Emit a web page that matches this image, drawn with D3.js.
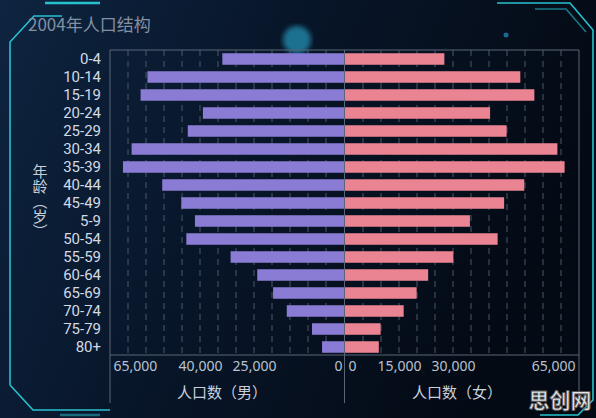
<!DOCTYPE html>
<html>
<head>
<meta charset="utf-8">
<script src="https://cdn.jsdelivr.net/npm/d3@7"></script>
<style>
	html, body { margin: 0; padding: 0; background: #06101e; }
	svg { display: block; font-family: 'Noto Sans CJK SC', 'Noto Sans', sans-serif; }
</style>
</head>
<body>
<div id="chart"></div>
<script>
// Age groups, in the order the source lists them
const ageGroups = [ '0-4', '10-14', '15-19', '20-24', '25-29', '30-34', '35-39', '40-44', '45-49', '5-9',
	'50-54', '55-59', '60-64', '65-69', '70-74', '75-79', '80+' ];
const male = [ 33800, 54600, 56500, 39200, 43400, 59000, 61400, 50500, 45200, 41400,
	43800, 31500, 24100, 19700, 15900, 8900, 6100 ];
const female = [ 27600, 48700, 52600, 40300, 44900, 59000, 61000, 49800, 44200, 34700,
	42400, 30100, 23100, 19900, 16300, 9900, 9400 ];
const maleTicks = [ 65000, 40000, 25000, 0 ];
const femaleTicks = [ 0, 15000, 30000, 65000 ];

let dimensions = {
	width  : 596,
	height : 418,
	top    : 50,
	bottom : 356,
	left   : 110,
	mid    : 344.5,
	right  : 579
};

const svg = d3
	.select('#chart')
	.append('svg')
	.attr('width', dimensions.width)
	.attr('height', dimensions.height);

// background + decorative frame
const defs = svg.append('defs');
const bg = defs.append('linearGradient').attr('id', 'bg').attr('x1', 0).attr('x2', 1).attr('y1', 0).attr('y2', 0.3);
bg.append('stop').attr('offset', '0%').attr('stop-color', '#0e2440');
bg.append('stop').attr('offset', '45%').attr('stop-color', '#08162a');
bg.append('stop').attr('offset', '100%').attr('stop-color', '#040a14');
defs.append('filter').attr('id', 'glow').append('feGaussianBlur').attr('stdDeviation', 2.5);
defs.append('filter').attr('id', 'soft').append('feGaussianBlur').attr('stdDeviation', 0.6);

svg.append('rect').attr('width', dimensions.width).attr('height', dimensions.height).attr('fill', 'url(#bg)');

svg.append('circle').attr('cx', 297).attr('cy', 40).attr('r', 14).attr('fill', '#1a7191').attr('filter', 'url(#glow)');
svg.append('circle').attr('cx', 506).attr('cy', 35).attr('r', 2.5).attr('fill', '#1a6a94');

const frame = svg.append('g').attr('fill', 'none').attr('stroke', '#27c1cf').attr('stroke-width', 1.6).attr('filter', 'url(#soft)');
frame.append('path').attr('d', 'M10,385 L10,42 L34,16 L62,16');
frame.append('path').attr('d', 'M45,3 L100,3').attr('stroke-width', 2.5);
frame.append('path').attr('d', 'M10,385 L33,410 L110,410');
frame.append('path').attr('d', 'M60,415 L100,415').attr('stroke-opacity', 0.5).attr('stroke-width', 2.5);
frame.append('path').attr('d', 'M497,3 L570,3 L593,30 L593,400 L578,415 L540,415');
frame.append('path').attr('d', 'M535,9 L566,9 L586,32').attr('stroke-opacity', 0.6);

// title
svg.append('text')
	.attr('x', 28)
	.attr('y', 31)
	.attr('font-size', 17)
	.attr('fill', '#8390a2')
	.text('2004年人口结构');

// scales
const y = d3
	.scaleBand()
	.domain(ageGroups)
	.range([ dimensions.top, dimensions.bottom ])
	.paddingInner(0.36)
	.paddingOuter(0.18);

const xMale = d3.scaleLinear().domain([ 0, 65000 ]).range([ dimensions.mid - 0.5, dimensions.left ]);
const xFemale = d3.scaleLinear().domain([ 0, 65000 ]).range([ dimensions.mid + 0.5, dimensions.right ]);

const gridValues = d3.range(5000, 65000, 5000);

// dashed grid lines
svg.append('g')
	.selectAll('line')
	.data(gridValues.map((v) => xMale(v)).concat(gridValues.map((v) => xFemale(v))))
	.enter()
	.append('line')
	.attr('x1', (d) => d)
	.attr('x2', (d) => d)
	.attr('y1', dimensions.top)
	.attr('y2', 355)
	.attr('stroke', '#4a5868')
	.attr('stroke-width', 1)
	.attr('stroke-dasharray', '6,5');

// grid borders
const border = svg.append('g').attr('stroke', '#5a6677').attr('stroke-width', 1).attr('fill', 'none');
border.append('path').attr('d', `M${dimensions.left},403 L${dimensions.left},${dimensions.top} L${dimensions.right},${dimensions.top} L${dimensions.right},403`);
border.append('line').attr('x1', dimensions.left).attr('x2', dimensions.right).attr('y1', 355).attr('y2', 355);
border.append('line').attr('x1', dimensions.mid).attr('x2', dimensions.mid).attr('y1', dimensions.top).attr('y2', 403);

// bars
svg.append('g')
	.selectAll('rect')
	.data(ageGroups)
	.enter()
	.append('rect')
	.attr('x', (d, i) => xMale(male[i]))
	.attr('y', (d) => y(d))
	.attr('width', (d, i) => xMale(0) - xMale(male[i]))
	.attr('height', y.bandwidth())
	.attr('fill', '#8a7bd4');

svg.append('g')
	.selectAll('rect')
	.data(ageGroups)
	.enter()
	.append('rect')
	.attr('x', xFemale(0))
	.attr('y', (d) => y(d))
	.attr('width', (d, i) => xFemale(female[i]) - xFemale(0))
	.attr('height', y.bandwidth())
	.attr('fill', '#ea8392');

// y axis labels
const yAxis = svg
	.append('g')
	.attr('transform', 'translate(101,0)')
	.call(d3.axisLeft(y).tickSize(0).tickPadding(0));
yAxis.select('.domain').remove();
yAxis.selectAll('text')
	.attr('font-size', 15)
	.attr('fill', '#d2dae6')
	.attr('font-family', 'Roboto, sans-serif');

// x axes
function styleXAxis(g, ticks) {
	g.select('.domain').remove();
	g.selectAll('text')
		.attr('font-size', 14)
		.attr('fill', '#b9c3d0')
		.attr('font-family', "'Noto Sans', sans-serif")
		.attr('dy', '0.71em')
		.style('text-anchor', function(d, i) {
			if (i == 0) return 'start';
			if (i == ticks.length - 1) return 'end';
			return 'middle';
		});
}

const maleAxis = svg
	.append('g')
	.attr('transform', 'translate(0,355)')
	.call(d3.axisBottom(xMale).tickValues(maleTicks).tickFormat(d3.format(',')).tickSize(0).tickPadding(6));
styleXAxis(maleAxis, maleTicks);
maleAxis.selectAll('.tick text').attr('x', (d) => (d == 65000 ? 3 : d == 0 ? -2 : 0));

const femaleAxis = svg
	.append('g')
	.attr('transform', 'translate(0,355)')
	.call(d3.axisBottom(xFemale).tickValues(femaleTicks).tickFormat(d3.format(',')).tickSize(0).tickPadding(6));
styleXAxis(femaleAxis, femaleTicks);
femaleAxis.selectAll('.tick text').attr('x', (d) => (d == 0 ? 3 : d == 65000 ? -4 : 0));

// axis names
svg.append('text')
	.attr('x', 222)
	.attr('y', 398)
	.attr('text-anchor', 'middle')
	.attr('font-size', 15)
	.attr('fill', '#c8d0dc')
	.text('人口数（男）');

svg.append('text')
	.attr('x', 457)
	.attr('y', 398)
	.attr('text-anchor', 'middle')
	.attr('font-size', 15)
	.attr('fill', '#c8d0dc')
	.text('人口数（女）');

svg.append('text')
	.attr('x', 40)
	.attr('y', 164)
	.attr('font-size', 15)
	.attr('fill', '#c8d0dc')
	.style('writing-mode', 'vertical-rl')
	.text('年龄（岁）');

// watermark
svg.append('text')
	.attr('x', 560)
	.attr('y', 408)
	.attr('text-anchor', 'middle')
	.attr('font-size', 21)
	.attr('font-weight', 'bold')
	.attr('fill', '#e6e6e6')
	.attr('stroke', '#555')
	.attr('stroke-width', 0.8)
	.text('思创网');
</script>
</body>
</html>
